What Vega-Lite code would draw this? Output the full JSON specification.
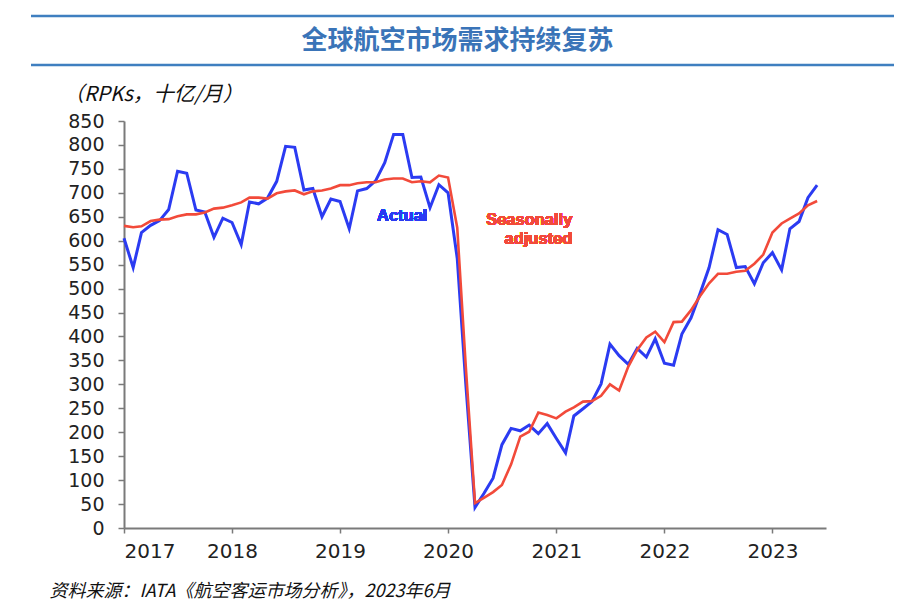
{
  "$schema": "https://vega.github.io/schema/vega-lite/v6.json",
  "autosize": {"type": "pad"},
  "padding": {"left": 29, "top": 14, "right": 17, "bottom": 16},
  "background": "white",
  "bounds": "flush",
  "spacing": 56,
  "config": {"view": {"stroke": null}},
  "vconcat": [
    {
      "width": 863,
      "height": 49,
      "view": {"stroke": "#3f7fc0", "strokeWidth": 2.5, "strokeDash": [863, 49]},
      "data": {"values": [{"title": "全球航空市场需求持续复苏"}]},
      "mark": {"type": "text", "font": "Noto Sans CJK SC", "fontSize": 26, "fontWeight": "bold", "color": "#3a74b8", "align": "center", "baseline": "middle", "dx": -5},
      "encoding": {"text": {"field": "title", "type": "nominal"}}
    },
    {
      "width": 863,
      "height": 407,
      "data": {"values": [
        {"date": "2017-01-01", "series": "Actual", "value": 605},
        {"date": "2017-02-01", "series": "Actual", "value": 544},
        {"date": "2017-03-01", "series": "Actual", "value": 617},
        {"date": "2017-04-01", "series": "Actual", "value": 632},
        {"date": "2017-05-01", "series": "Actual", "value": 642},
        {"date": "2017-06-01", "series": "Actual", "value": 665},
        {"date": "2017-07-01", "series": "Actual", "value": 745},
        {"date": "2017-08-01", "series": "Actual", "value": 741},
        {"date": "2017-09-01", "series": "Actual", "value": 664},
        {"date": "2017-10-01", "series": "Actual", "value": 660},
        {"date": "2017-11-01", "series": "Actual", "value": 607},
        {"date": "2017-12-01", "series": "Actual", "value": 647},
        {"date": "2018-01-01", "series": "Actual", "value": 638},
        {"date": "2018-02-01", "series": "Actual", "value": 592},
        {"date": "2018-03-01", "series": "Actual", "value": 681},
        {"date": "2018-04-01", "series": "Actual", "value": 677},
        {"date": "2018-05-01", "series": "Actual", "value": 689},
        {"date": "2018-06-01", "series": "Actual", "value": 724},
        {"date": "2018-07-01", "series": "Actual", "value": 797},
        {"date": "2018-08-01", "series": "Actual", "value": 795},
        {"date": "2018-09-01", "series": "Actual", "value": 706},
        {"date": "2018-10-01", "series": "Actual", "value": 709},
        {"date": "2018-11-01", "series": "Actual", "value": 650},
        {"date": "2018-12-01", "series": "Actual", "value": 687},
        {"date": "2019-01-01", "series": "Actual", "value": 682},
        {"date": "2019-02-01", "series": "Actual", "value": 625},
        {"date": "2019-03-01", "series": "Actual", "value": 704},
        {"date": "2019-04-01", "series": "Actual", "value": 709},
        {"date": "2019-05-01", "series": "Actual", "value": 725},
        {"date": "2019-06-01", "series": "Actual", "value": 763},
        {"date": "2019-07-01", "series": "Actual", "value": 822},
        {"date": "2019-08-01", "series": "Actual", "value": 822},
        {"date": "2019-09-01", "series": "Actual", "value": 732},
        {"date": "2019-10-01", "series": "Actual", "value": 733},
        {"date": "2019-11-01", "series": "Actual", "value": 669},
        {"date": "2019-12-01", "series": "Actual", "value": 717},
        {"date": "2020-01-01", "series": "Actual", "value": 700},
        {"date": "2020-02-01", "series": "Actual", "value": 563},
        {"date": "2020-03-01", "series": "Actual", "value": 300},
        {"date": "2020-04-01", "series": "Actual", "value": 43},
        {"date": "2020-05-01", "series": "Actual", "value": 72},
        {"date": "2020-06-01", "series": "Actual", "value": 104},
        {"date": "2020-07-01", "series": "Actual", "value": 174},
        {"date": "2020-08-01", "series": "Actual", "value": 208},
        {"date": "2020-09-01", "series": "Actual", "value": 203},
        {"date": "2020-10-01", "series": "Actual", "value": 215},
        {"date": "2020-11-01", "series": "Actual", "value": 197},
        {"date": "2020-12-01", "series": "Actual", "value": 218},
        {"date": "2021-01-01", "series": "Actual", "value": 187},
        {"date": "2021-02-01", "series": "Actual", "value": 157},
        {"date": "2021-03-01", "series": "Actual", "value": 234},
        {"date": "2021-04-01", "series": "Actual", "value": 249},
        {"date": "2021-05-01", "series": "Actual", "value": 264},
        {"date": "2021-06-01", "series": "Actual", "value": 301},
        {"date": "2021-07-01", "series": "Actual", "value": 384},
        {"date": "2021-08-01", "series": "Actual", "value": 360},
        {"date": "2021-09-01", "series": "Actual", "value": 342},
        {"date": "2021-10-01", "series": "Actual", "value": 375},
        {"date": "2021-11-01", "series": "Actual", "value": 357},
        {"date": "2021-12-01", "series": "Actual", "value": 395},
        {"date": "2022-01-01", "series": "Actual", "value": 344},
        {"date": "2022-02-01", "series": "Actual", "value": 340},
        {"date": "2022-03-01", "series": "Actual", "value": 405},
        {"date": "2022-04-01", "series": "Actual", "value": 439},
        {"date": "2022-05-01", "series": "Actual", "value": 489},
        {"date": "2022-06-01", "series": "Actual", "value": 544},
        {"date": "2022-07-01", "series": "Actual", "value": 623},
        {"date": "2022-08-01", "series": "Actual", "value": 613},
        {"date": "2022-09-01", "series": "Actual", "value": 544},
        {"date": "2022-10-01", "series": "Actual", "value": 546},
        {"date": "2022-11-01", "series": "Actual", "value": 510},
        {"date": "2022-12-01", "series": "Actual", "value": 554},
        {"date": "2023-01-01", "series": "Actual", "value": 575},
        {"date": "2023-02-01", "series": "Actual", "value": 539},
        {"date": "2023-03-01", "series": "Actual", "value": 625},
        {"date": "2023-04-01", "series": "Actual", "value": 640},
        {"date": "2023-05-01", "series": "Actual", "value": 690},
        {"date": "2023-06-01", "series": "Actual", "value": 716},
        {"date": "2017-01-01", "series": "Seasonally adjusted", "value": 631},
        {"date": "2017-02-01", "series": "Seasonally adjusted", "value": 628},
        {"date": "2017-03-01", "series": "Seasonally adjusted", "value": 630},
        {"date": "2017-04-01", "series": "Seasonally adjusted", "value": 641},
        {"date": "2017-05-01", "series": "Seasonally adjusted", "value": 644},
        {"date": "2017-06-01", "series": "Seasonally adjusted", "value": 645},
        {"date": "2017-07-01", "series": "Seasonally adjusted", "value": 651},
        {"date": "2017-08-01", "series": "Seasonally adjusted", "value": 655},
        {"date": "2017-09-01", "series": "Seasonally adjusted", "value": 655},
        {"date": "2017-10-01", "series": "Seasonally adjusted", "value": 659},
        {"date": "2017-11-01", "series": "Seasonally adjusted", "value": 667},
        {"date": "2017-12-01", "series": "Seasonally adjusted", "value": 669},
        {"date": "2018-01-01", "series": "Seasonally adjusted", "value": 674},
        {"date": "2018-02-01", "series": "Seasonally adjusted", "value": 680},
        {"date": "2018-03-01", "series": "Seasonally adjusted", "value": 690},
        {"date": "2018-04-01", "series": "Seasonally adjusted", "value": 690},
        {"date": "2018-05-01", "series": "Seasonally adjusted", "value": 688},
        {"date": "2018-06-01", "series": "Seasonally adjusted", "value": 699},
        {"date": "2018-07-01", "series": "Seasonally adjusted", "value": 703},
        {"date": "2018-08-01", "series": "Seasonally adjusted", "value": 705},
        {"date": "2018-09-01", "series": "Seasonally adjusted", "value": 697},
        {"date": "2018-10-01", "series": "Seasonally adjusted", "value": 703},
        {"date": "2018-11-01", "series": "Seasonally adjusted", "value": 705},
        {"date": "2018-12-01", "series": "Seasonally adjusted", "value": 709},
        {"date": "2019-01-01", "series": "Seasonally adjusted", "value": 716},
        {"date": "2019-02-01", "series": "Seasonally adjusted", "value": 716},
        {"date": "2019-03-01", "series": "Seasonally adjusted", "value": 720},
        {"date": "2019-04-01", "series": "Seasonally adjusted", "value": 722},
        {"date": "2019-05-01", "series": "Seasonally adjusted", "value": 722},
        {"date": "2019-06-01", "series": "Seasonally adjusted", "value": 728},
        {"date": "2019-07-01", "series": "Seasonally adjusted", "value": 730},
        {"date": "2019-08-01", "series": "Seasonally adjusted", "value": 730},
        {"date": "2019-09-01", "series": "Seasonally adjusted", "value": 722},
        {"date": "2019-10-01", "series": "Seasonally adjusted", "value": 724},
        {"date": "2019-11-01", "series": "Seasonally adjusted", "value": 722},
        {"date": "2019-12-01", "series": "Seasonally adjusted", "value": 736},
        {"date": "2020-01-01", "series": "Seasonally adjusted", "value": 732},
        {"date": "2020-02-01", "series": "Seasonally adjusted", "value": 627},
        {"date": "2020-03-01", "series": "Seasonally adjusted", "value": 336},
        {"date": "2020-04-01", "series": "Seasonally adjusted", "value": 52},
        {"date": "2020-05-01", "series": "Seasonally adjusted", "value": 63},
        {"date": "2020-06-01", "series": "Seasonally adjusted", "value": 75},
        {"date": "2020-07-01", "series": "Seasonally adjusted", "value": 90},
        {"date": "2020-08-01", "series": "Seasonally adjusted", "value": 133},
        {"date": "2020-09-01", "series": "Seasonally adjusted", "value": 191},
        {"date": "2020-10-01", "series": "Seasonally adjusted", "value": 201},
        {"date": "2020-11-01", "series": "Seasonally adjusted", "value": 241},
        {"date": "2020-12-01", "series": "Seasonally adjusted", "value": 236},
        {"date": "2021-01-01", "series": "Seasonally adjusted", "value": 229},
        {"date": "2021-02-01", "series": "Seasonally adjusted", "value": 243},
        {"date": "2021-03-01", "series": "Seasonally adjusted", "value": 252},
        {"date": "2021-04-01", "series": "Seasonally adjusted", "value": 264},
        {"date": "2021-05-01", "series": "Seasonally adjusted", "value": 265},
        {"date": "2021-06-01", "series": "Seasonally adjusted", "value": 276},
        {"date": "2021-07-01", "series": "Seasonally adjusted", "value": 300},
        {"date": "2021-08-01", "series": "Seasonally adjusted", "value": 287},
        {"date": "2021-09-01", "series": "Seasonally adjusted", "value": 337},
        {"date": "2021-10-01", "series": "Seasonally adjusted", "value": 372},
        {"date": "2021-11-01", "series": "Seasonally adjusted", "value": 398},
        {"date": "2021-12-01", "series": "Seasonally adjusted", "value": 410},
        {"date": "2022-01-01", "series": "Seasonally adjusted", "value": 388},
        {"date": "2022-02-01", "series": "Seasonally adjusted", "value": 430},
        {"date": "2022-03-01", "series": "Seasonally adjusted", "value": 431},
        {"date": "2022-04-01", "series": "Seasonally adjusted", "value": 455},
        {"date": "2022-05-01", "series": "Seasonally adjusted", "value": 484},
        {"date": "2022-06-01", "series": "Seasonally adjusted", "value": 511},
        {"date": "2022-07-01", "series": "Seasonally adjusted", "value": 531},
        {"date": "2022-08-01", "series": "Seasonally adjusted", "value": 531},
        {"date": "2022-09-01", "series": "Seasonally adjusted", "value": 535},
        {"date": "2022-10-01", "series": "Seasonally adjusted", "value": 537},
        {"date": "2022-11-01", "series": "Seasonally adjusted", "value": 552},
        {"date": "2022-12-01", "series": "Seasonally adjusted", "value": 571},
        {"date": "2023-01-01", "series": "Seasonally adjusted", "value": 617},
        {"date": "2023-02-01", "series": "Seasonally adjusted", "value": 636},
        {"date": "2023-03-01", "series": "Seasonally adjusted", "value": 646},
        {"date": "2023-04-01", "series": "Seasonally adjusted", "value": 657},
        {"date": "2023-05-01", "series": "Seasonally adjusted", "value": 674},
        {"date": "2023-06-01", "series": "Seasonally adjusted", "value": 683}
      ]},
      "encoding": {
        "x": {
          "field": "date", "type": "temporal",
          "scale": {"type": "utc", "domain": [{"year": 2017, "month": 1, "date": 1, "utc": true}, {"year": 2023, "month": 7, "date": 1, "utc": true}], "range": [93, 795]},
          "axis": {
            "values": [{"year": 2017, "utc": true}, {"year": 2018, "utc": true}, {"year": 2019, "utc": true}, {"year": 2020, "utc": true}, {"year": 2021, "utc": true}, {"year": 2022, "utc": true}, {"year": 2023, "utc": true}],
            "format": "%Y", "formatType": "utc",
            "grid": false,
            "domainColor": "#7a7a7a", "domainWidth": 2,
            "tickColor": "#7a7a7a", "tickWidth": 1.5, "tickSize": 5,
            "labelFont": "DejaVu Sans", "labelFontSize": 20, "labelColor": "#222222", "labelPadding": 8,
            "title": "资料来源：IATA《航空客运市场分析》，2023年6月",
            "titleFont": "Noto Sans CJK SC", "titleFontSize": 18, "titleFontStyle": "italic", "titleFontWeight": "normal", "titleColor": "#111111",
            "titleAnchor": "start", "titleAlign": "left", "titleBaseline": "middle", "titleAngle": 0,
            "titleX": 18, "titleY": 63
          }
        },
        "y": {
          "field": "value", "type": "quantitative",
          "scale": {"domain": [0, 850], "nice": false, "zero": true},
          "axis": {
            "orient": "left", "offset": -93,
            "values": [0, 50, 100, 150, 200, 250, 300, 350, 400, 450, 500, 550, 600, 650, 700, 750, 800, 850],
            "grid": false,
            "domainColor": "#7a7a7a", "domainWidth": 2,
            "tickColor": "#7a7a7a", "tickWidth": 1.5, "tickSize": 6,
            "labelFont": "DejaVu Sans", "labelFontSize": 19, "labelColor": "#222222", "labelPadding": 14,
            "title": "（RPKs，十亿/月）",
            "titleFont": "Noto Sans CJK SC", "titleFontSize": 20.5, "titleFontStyle": "italic", "titleFontWeight": "normal", "titleColor": "#111111",
            "titleAngle": 0, "titleAlign": "left", "titleBaseline": "middle",
            "titleX": -61, "titleY": -27
          }
        }
      },
      "layer": [
        {
          "transform": [{"filter": "datum.series === 'Actual'"}],
          "mark": {"type": "line", "color": "#2b3bf2", "strokeWidth": 3}
        },
        {
          "transform": [{"filter": "datum.series === 'Seasonally adjusted'"}],
          "mark": {"type": "line", "color": "#f24a3a", "strokeWidth": 2.6}
        },
        {
          "mark": {"type": "text", "text": "Actual", "font": "Liberation Sans", "fontWeight": "bold", "fontSize": 16.5, "color": "#2b3bf2", "align": "center", "baseline": "middle"},
          "encoding": {
            "x": {"datum": {"year": 2019, "month": 7, "date": 30, "utc": true}, "type": "temporal"},
            "y": {"datum": 652, "type": "quantitative"}
          }
        },
        {
          "mark": {"type": "text", "text": "Seasonally", "font": "Liberation Sans", "fontWeight": "bold", "fontSize": 16.5, "color": "#f24a3a", "align": "right", "baseline": "middle"},
          "encoding": {
            "x": {"datum": {"year": 2021, "month": 2, "date": 24, "utc": true}, "type": "temporal"},
            "y": {"datum": 643, "type": "quantitative"}
          }
        },
        {
          "mark": {"type": "text", "text": "adjusted", "font": "Liberation Sans", "fontWeight": "bold", "fontSize": 16.5, "color": "#f24a3a", "align": "right", "baseline": "middle"},
          "encoding": {
            "x": {"datum": {"year": 2021, "month": 2, "date": 24, "utc": true}, "type": "temporal"},
            "y": {"datum": 604, "type": "quantitative"}
          }
        }
      ]
    }
  ]
}
